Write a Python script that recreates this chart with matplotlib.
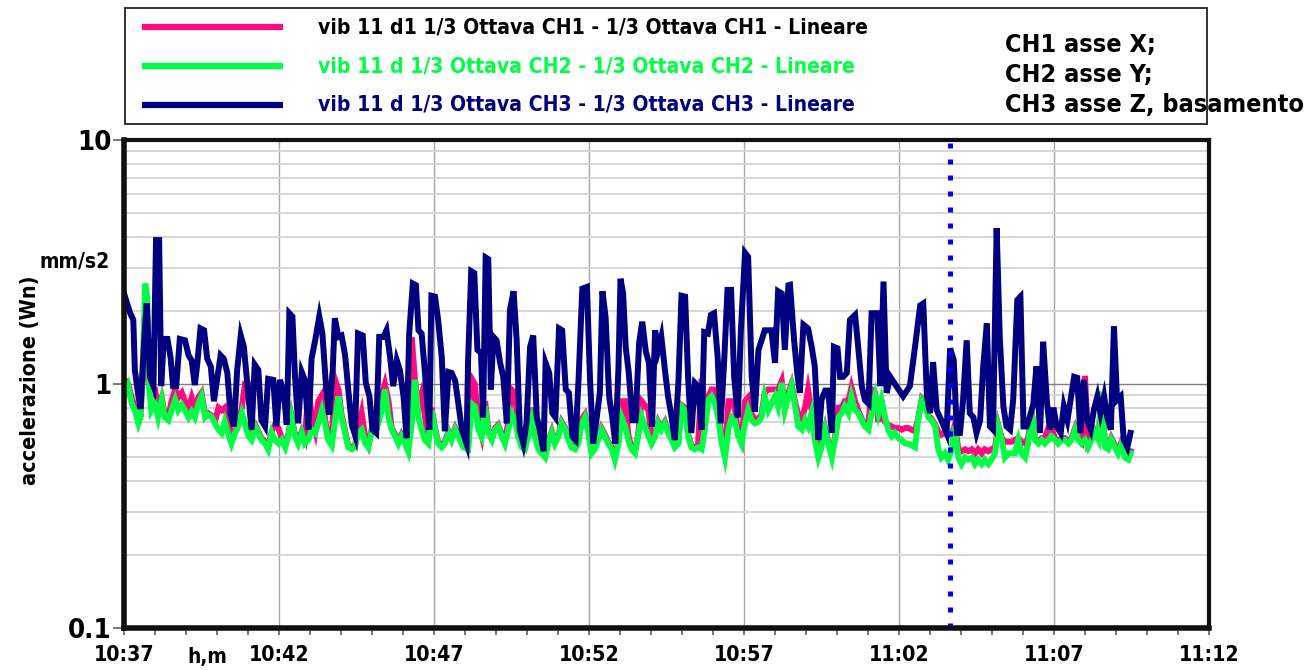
import matplotlib
matplotlib.use("Agg")
import matplotlib.pyplot as plt
import numpy as np
from matplotlib import font_manager
from matplotlib.ticker import FixedLocator, NullFormatter
from matplotlib.patches import Rectangle

# pick a narrow bold face if one is installed
_names = {f.name for f in font_manager.fontManager.ttflist}
_cond = [f for f in font_manager.fontManager.ttflist
         if f.name == 'DejaVu Sans' and 'condensed' in str(f.stretch).lower()]
if 'Liberation Sans Narrow' in _names:
    FAMILY, STRETCH = 'Liberation Sans Narrow', 'normal'
elif _cond:
    FAMILY, STRETCH = 'DejaVu Sans', 'condensed'
elif 'Roboto' in _names:
    FAMILY, STRETCH = 'Roboto', 'normal'
else:
    FAMILY, STRETCH = 'DejaVu Sans', 'normal'
plt.rcParams['font.family'] = [FAMILY, 'DejaVu Sans']
plt.rcParams['font.stretch'] = STRETCH
plt.rcParams['font.weight'] = 'bold'

# ---- data: seconds after 10:37:00, acceleration in mm/s2 ----
ch3_t = [0, 12, 18, 21, 28, 32, 39, 44, 50, 57, 62, 68, 72, 77, 84, 90, 95, 101, 108, 118,
         125, 131, 137, 142, 148, 155, 161, 168, 174, 181, 187, 193, 200, 206, 213, 219, 226, 232, 239, 247,
         253, 260, 266, 273, 279, 289, 295, 302, 310, 315, 320, 326, 331, 337, 344, 350, 357, 363, 370, 378,
         384, 391, 397, 404, 408, 415, 421, 428, 434, 441, 447, 453, 462, 468, 475, 481, 488, 494, 502, 508,
         515, 521, 528, 534, 541, 547, 552, 559, 565, 570, 576, 582, 591, 595, 602, 608, 615, 621, 628, 634, 641,
         654, 663, 666, 672, 678, 684, 691, 695, 700, 705, 710, 715, 721, 728, 734, 741, 747, 754, 760, 766,
         773, 779, 786, 792, 799, 805, 812, 816, 823, 829, 835, 842, 848, 855, 861, 868, 874, 880, 887, 896,
         902, 908, 915, 921, 926, 932, 939, 945, 951, 957, 961, 966, 971, 977, 984, 990, 997, 1003, 1010, 1016,
         1022, 1028, 1034, 1040, 1047, 1053, 1060, 1066, 1073, 1079, 1086, 1092, 1098, 1105, 1111, 1118, 1123, 1130, 1136, 1142,
         1149, 1155, 1162, 1168, 1175, 1181, 1188, 1194, 1202, 1208, 1215, 1221, 1228, 1234, 1240, 1247, 1253, 1260, 1266, 1273,
         1279, 1286,
         1289, 1297, 1303, 1308, 1315, 1324, 1331, 1337, 1344, 1350, 1357, 1363, 1370, 1374, 1381, 1386, 1392, 1399, 1405, 1415,
         1421, 1428, 1434, 1441, 1447, 1458, 1464, 1470, 1476, 1483, 1495, 1508, 1521, 1531, 1541, 1547, 1554, 1560, 1566, 1573,
         1582, 1592, 1599, 1606, 1612, 1618, 1624, 1631, 1637, 1644, 1650, 1657, 1663, 1670, 1676, 1682, 1689, 1695, 1702, 1708,
         1715, 1721, 1729, 1735, 1741, 1747, 1753, 1760, 1766, 1773, 1779, 1786, 1792, 1799, 1805, 1813, 1819, 1826, 1832, 1839,
         1845, 1851, 1858, 1864, 1871, 1877, 1884, 1890, 1897, 1903, 1910, 1916, 1922, 1929, 1935, 1942, 1948]
ch3_v = [2.35, 1.95, 1.83, 1.14, 0.89, 0.79, 1.51, 2.14, 1.07, 0.98, 3.89, 3.89, 0.98, 1.53, 1.53, 1.29, 0.98, 0.98, 1.53, 1.51,
         1.31, 1.25, 0.99, 1.22, 1.69, 1.66, 1.27, 1.18, 0.85, 1.07, 1.31, 1.27, 1.11, 0.76, 0.67, 1.14, 1.58, 1.42, 0.98, 0.65,
         1.2, 1.14, 0.71, 0.67, 1.05, 1.04, 0.67, 1.04, 0.89, 0.68, 1.95, 1.89, 1.07, 0.69, 1.12, 1.04, 0.65, 1.27, 1.51, 1.89,
         1.61, 0.98, 0.75, 1.14, 1.86, 1.56, 1.58, 1.31, 0.95, 0.68, 0.62, 1.61, 1.58, 1.01, 0.89, 0.65, 0.63, 1.56, 1.56, 1.66,
         1.29, 0.98, 1.25, 1.14, 0.89, 0.6, 1.61, 2.58, 2.54, 1.66, 1.61, 1.14, 0.65, 2.3, 2.28, 1.83, 1.29, 0.64, 1.12, 1.11, 1.03,
         0.65, 0.57, 1.25, 2.9, 2.85, 1.38, 1.34, 0.73, 3.3, 3.25, 0.95, 1.56, 1.51, 1.22, 1.07, 0.69, 2.01, 2.4, 1.51, 0.65,
         0.57, 0.69, 1.42, 1.58, 0.73, 0.65, 0.53, 1.22, 1.11, 0.76, 0.73, 1.69, 1.66, 0.95, 0.92, 0.61, 0.59, 1.07, 2.46, 2.5,
         1.04, 0.57, 0.73, 0.92, 2.4, 1.89, 0.89, 0.73, 0.57, 1.16, 2.7, 2.35, 1.42, 1.11, 0.71, 0.71, 1.47, 1.8, 1.36, 1.22,
         0.67, 1.66, 1.38, 1.56, 1.14, 0.89, 0.73, 0.59, 1.01, 2.3, 2.28, 1.04, 0.63, 1.01, 0.98, 0.65, 1.63, 1.61, 1.92, 1.95,
         1.29, 0.69, 1.29, 2.43, 2.43, 1.07, 0.73, 1.66, 3.45, 3.32, 1.07, 0.77, 1.38, 1.51, 1.66, 1.66, 1.66, 1.22, 2.4, 2.35,
         1.38, 2.54,
         2.55, 1.51, 1.11, 0.92, 1.75, 1.69, 1.42, 1.18, 0.59, 0.86, 0.94, 0.94, 0.63, 1.42, 1.40, 1.07, 1.07, 1.11, 1.83, 1.92,
         1.42, 0.98, 0.86, 0.83, 1.95, 1.95, 0.98, 2.63, 0.92, 1.07, 0.98, 0.89, 0.98, 1.42, 2.1, 2.14, 0.89, 0.76, 1.23, 0.78,
         0.71, 0.63, 1.40, 1.25, 0.63, 0.63, 0.86, 1.51, 0.76, 0.73, 0.63, 0.71, 1.18, 1.77, 0.67, 0.65, 4.35, 1.56, 0.81, 0.67,
         0.65, 0.86, 2.21, 2.28, 0.67, 0.67, 0.73, 0.83, 1.18, 0.63, 1.49, 0.86, 0.65, 0.80, 0.67, 0.63, 0.81, 0.71, 0.86, 1.07,
         1.06, 0.63, 1.04, 0.71, 0.65, 0.78, 0.89, 0.76, 0.89, 0.73, 0.65, 1.72, 0.86, 0.89, 0.59, 0.55, 0.63]

# CH1 and CH2 share the same sampling instants
ch12_t = [0, 8, 15, 21, 28, 32, 36, 41, 45, 49, 53, 60, 66, 73, 79, 86, 92, 99, 105, 112,
          118, 125, 131, 137, 144, 150, 157, 163, 170, 176, 183, 189, 195, 202, 208, 215, 221, 228, 234, 241,
          247, 254, 260, 266, 273, 279, 286, 292, 299, 305, 312, 318, 324, 331, 337, 344, 350, 357, 363, 370,
          376, 383, 389, 395, 402, 408, 415, 421, 428, 434, 441, 447, 453, 460, 467, 473, 480, 486, 492, 499,
          505, 512, 518, 525, 531, 537, 544, 550, 557, 563, 570, 576, 582, 589, 595, 602, 608, 615, 621, 628,
          634, 641,
          647, 657, 666, 673, 679, 686, 692, 699, 705, 712, 718, 724, 731, 737, 744, 750, 757, 763, 770, 776,
          782, 789, 795, 802, 808, 815, 821, 828, 834, 841, 847, 854, 860, 866, 873, 879, 886, 892, 899, 905,
          911, 918, 924, 931, 937, 944, 950, 957, 963, 970, 976, 982, 989, 995, 1002, 1008, 1015, 1021, 1028, 1034,
          1040, 1047, 1053, 1060, 1066, 1073, 1079, 1086, 1092, 1098, 1105, 1111, 1118, 1124, 1131, 1137, 1144, 1150, 1157, 1163,
          1170, 1176, 1182, 1189, 1195, 1202, 1208, 1215, 1221, 1228, 1234, 1240, 1247, 1253, 1260, 1266, 1273, 1279, 1286,
          1292, 1299, 1305, 1312, 1318, 1324, 1331, 1337, 1344, 1350, 1357, 1363, 1370, 1376, 1383, 1389, 1395, 1402, 1408, 1415,
          1421, 1428, 1434, 1441, 1447, 1454, 1460, 1466, 1473, 1479, 1486, 1492, 1499, 1505, 1512, 1518, 1524, 1531, 1537, 1544,
          1550, 1557, 1563, 1570, 1576, 1582, 1589, 1595, 1602, 1608, 1615, 1621, 1628, 1634, 1641, 1647, 1653, 1660, 1666, 1673,
          1679, 1686, 1692, 1699, 1705, 1712, 1718, 1724, 1731, 1737, 1744, 1750, 1757, 1763, 1770, 1776, 1782, 1789, 1795, 1802,
          1808, 1815, 1821, 1828, 1834, 1841, 1847, 1853, 1860, 1866, 1873, 1879, 1886, 1892, 1899, 1905, 1911, 1918, 1924, 1931,
          1937, 1944, 1948]
ch2_v = [0.89, 0.98, 0.83, 0.78, 0.69, 0.73, 1.11, 2.58, 2.28, 0.95, 0.78, 0.83, 0.73, 0.86, 0.73, 0.71, 0.78, 0.86, 0.78, 0.82,
         0.78, 0.73, 0.77, 0.73, 0.83, 0.89, 0.73, 0.75, 0.73, 0.69, 0.65, 0.63, 0.70, 0.62, 0.57, 0.63, 0.67, 0.76, 0.69, 0.61,
         0.59, 0.67, 0.63, 0.59, 0.57, 0.54, 0.63, 0.59, 0.57, 0.59, 0.55, 0.61, 0.73, 0.61, 0.57, 0.63, 0.57, 0.59, 0.65, 0.63,
         0.69, 0.78, 0.69, 0.59, 0.56, 0.69, 0.89, 0.73, 0.63, 0.55, 0.54, 0.55, 0.63, 0.65, 0.57, 0.55, 0.65, 0.73, 0.69, 0.78,
         0.95, 0.73, 0.65, 0.61, 0.57, 0.61, 0.57, 0.53, 0.69, 1.04, 0.73, 0.65, 0.59, 0.57, 0.78, 0.65, 0.57, 0.55, 0.57, 0.63,
         0.59, 0.65,
         0.61, 0.55, 0.54, 0.83, 0.81, 0.65, 0.61, 0.81, 0.63, 0.59, 0.65, 0.67, 0.61, 0.57, 0.65, 0.76, 0.71, 0.61, 0.55, 0.54,
         0.61, 0.71, 0.61, 0.54, 0.52, 0.50, 0.57, 0.63, 0.57, 0.61, 0.69, 0.65, 0.59, 0.55, 0.54, 0.57, 0.69, 0.73, 0.63, 0.52,
         0.54, 0.59, 0.65, 0.61, 0.57, 0.54, 0.49, 0.57, 0.73, 0.67, 0.59, 0.54, 0.52, 0.61, 0.73, 0.67, 0.61, 0.57, 0.61, 0.69,
         0.65, 0.69, 0.63, 0.59, 0.55, 0.57, 0.81, 0.78, 0.61, 0.55, 0.54, 0.55, 0.54, 0.65, 0.86, 0.89, 0.83, 0.73, 0.57, 0.50,
         0.65, 0.73, 0.71, 0.61, 0.57, 0.69, 0.78, 0.71, 0.69, 0.70, 0.73, 0.89, 0.78, 0.83, 0.89, 0.81, 1.01, 0.78, 0.89,
         0.98, 0.81, 0.67, 0.65, 0.71, 0.67, 0.76, 0.59, 0.50, 0.55, 0.65, 0.57, 0.50, 0.59, 0.73, 0.76, 0.81, 0.76, 0.89, 0.78,
         0.76, 0.71, 0.67, 0.65, 0.76, 0.89, 0.76, 0.86, 0.73, 0.65, 0.61, 0.63, 0.60, 0.59, 0.57, 0.57, 0.56, 0.55, 0.71, 0.86,
         0.83, 0.73, 0.71, 0.67, 0.54, 0.50, 0.52, 0.49, 0.54, 0.67, 0.50, 0.47, 0.50, 0.49, 0.50, 0.47, 0.49, 0.47, 0.49, 0.47,
         0.49, 0.52, 0.67, 0.59, 0.50, 0.52, 0.52, 0.52, 0.59, 0.52, 0.50, 0.57, 0.76, 0.59, 0.57, 0.59, 0.57, 0.59, 0.61, 0.59,
         0.57, 0.59, 0.59, 0.57, 0.59, 0.65, 0.59, 0.57, 0.59, 0.55, 0.59, 0.63, 0.59, 0.93, 0.55, 0.54, 0.59, 0.55, 0.52, 0.57,
         0.50, 0.49, 0.52]
ch1_v = [1.05, 1.0, 0.88, 0.8, 0.7, 0.74, 1.1, 1.2, 1.1, 0.97, 0.95, 0.95, 0.8, 0.88, 0.75, 0.73, 0.85, 0.95, 0.88, 0.92,
         0.85, 0.8, 0.88, 0.8, 0.88, 0.92, 0.75, 0.76, 0.74, 0.7, 0.8, 0.78, 0.8, 0.72, 0.6, 0.64, 0.68, 0.8, 1.0, 1.0,
         0.65, 0.68, 0.64, 0.6, 0.58, 0.55, 0.64, 0.68, 0.66, 0.6, 0.56, 0.62, 0.74, 0.62, 0.58, 0.64, 0.6, 0.95, 0.75, 0.65,
         0.85, 0.9, 0.72, 0.6, 0.58, 1.05, 0.95, 0.75, 0.64, 0.56, 0.55, 0.56, 0.65, 0.76, 0.6, 0.56, 0.66, 0.74, 0.72, 0.9,
         1.0, 0.85, 0.66, 0.62, 0.58, 0.62, 0.58, 0.55, 1.55, 1.05, 0.8, 0.9, 0.75, 0.58, 0.8, 0.66, 0.58, 0.56, 0.58, 0.64,
         0.6, 0.66,
         0.62, 0.56, 0.55, 1.05, 1.0, 0.7, 0.62, 0.85, 0.65, 0.6, 0.66, 0.68, 0.62, 0.58, 0.7, 0.95, 0.92, 0.64, 0.56, 0.55,
         0.62, 0.8, 0.64, 0.55, 0.53, 0.51, 0.58, 0.64, 0.58, 0.62, 0.7, 0.66, 0.6, 0.56, 0.55, 0.58, 0.72, 0.75, 0.64, 0.53,
         0.55, 0.6, 0.66, 0.62, 0.58, 0.55, 0.5, 0.58, 0.85, 0.85, 0.62, 0.55, 0.53, 0.62, 0.85, 0.82, 0.78, 0.6, 0.62, 0.7,
         0.66, 0.7, 0.64, 0.6, 0.56, 0.58, 0.82, 0.8, 0.62, 0.56, 0.55, 0.56, 1.05, 0.8, 0.88, 0.95, 0.95, 0.8, 0.58, 0.51,
         0.85, 0.85, 0.8, 0.62, 0.58, 0.85, 0.88, 0.75, 0.72, 0.72, 0.75, 0.92, 0.95, 0.95, 0.95, 0.95, 1.03, 0.8, 0.92,
         1.0, 0.84, 0.75, 0.72, 0.8, 0.95, 0.78, 0.62, 0.52, 0.57, 0.66, 0.58, 0.52, 0.6, 0.8, 0.8, 0.85, 0.85, 0.97, 0.85,
         0.78, 0.72, 0.68, 0.7, 0.95, 0.92, 0.7, 0.86, 0.7, 0.68, 0.67, 0.66, 0.66, 0.65, 0.66, 0.66, 0.65, 0.64, 0.72, 0.87,
         0.84, 0.74, 0.72, 0.68, 0.64, 0.62, 0.63, 0.62, 0.62, 0.68, 0.54, 0.53, 0.54, 0.53, 0.54, 0.52, 0.54, 0.52, 0.54, 0.53,
         0.54, 0.55, 0.68, 0.6, 0.58, 0.58, 0.58, 0.59, 0.6, 0.58, 0.57, 0.6, 0.77, 0.6, 0.58, 0.6, 0.6, 0.66, 0.66, 0.6,
         0.58, 0.6, 0.6, 0.58, 0.6, 0.66, 0.6, 0.58, 1.08, 0.57, 0.6, 0.64, 0.6, 0.9, 0.56, 0.55, 0.6, 0.56, 0.53, 0.58,
         0.51, 0.5, 0.53]

cursor_sec = 1599          # cursor position, seconds after 10:37:00
x_tick_labels = ['10:37', '10:42', '10:47', '10:52', '10:57', '11:02', '11:07', '11:12']
y_tick_values = [0.1, 1, 10]
y_tick_labels = ['0.1', '1', '10']

series_names = ['vib 11 d1 1/3 Ottava CH1 - 1/3 Ottava CH1 - Lineare',
                'vib 11 d 1/3 Ottava CH2 - 1/3 Ottava CH2 - Lineare',
                'vib 11 d 1/3 Ottava CH3 - 1/3 Ottava CH3 - Lineare']
axis_notes = ['CH1 asse X;', 'CH2 asse Y;', 'CH3 asse Z, basamento']

PINK = '#FF0A80'
GREEN = '#00FF44'
NAVY = '#000080'
colors = [PINK, GREEN, NAVY]
text_colors = ['black', GREEN, NAVY]

W, H = 1309, 670
fig = plt.figure(figsize=(W / 100, H / 100), dpi=100)
ax = fig.add_axes([124 / W, 1 - 628 / H, (1209 - 124) / W, (628 - 140) / H])

lw = 4.3
for t, v, c in [(ch12_t, ch1_v, PINK), (ch12_t, ch2_v, GREEN), (ch3_t, ch3_v, NAVY)]:
    ax.plot(np.array(t) / 60.0, v, color=c, lw=lw, solid_joinstyle='miter', zorder=3)

ax.axvline(cursor_sec / 60.0, color='#0000FF', lw=3.6, linestyle=(0, (1, 2.2)), zorder=5)

ax.set_yscale('log')
ax.set_ylim(0.1, 10)
ax.set_xlim(0, 35)

ax.yaxis.set_major_locator(FixedLocator(y_tick_values))
ax.set_yticklabels(y_tick_labels)
ax.yaxis.set_minor_locator(FixedLocator([m * d for d in (0.1, 1) for m in range(2, 10)]))
ax.yaxis.set_minor_formatter(NullFormatter())

ax.set_xticks(np.arange(0, 36, 5))
ax.set_xticklabels(x_tick_labels)
ax.set_xticks(np.arange(0, 36, 1), minor=True)

ax.grid(True, which='minor', axis='y', color='#d4d4d4', lw=1.3, zorder=0)
ax.grid(True, which='major', axis='y', color='#808080', lw=1.0, zorder=0)
ax.grid(True, which='major', axis='x', color='#a8a8a8', lw=1.0, zorder=0)

ax.tick_params(axis='x', which='both', direction='out', length=5, width=1.2, color='#606060', pad=7)
ax.tick_params(axis='y', which='major', direction='out', length=8, width=1.2, color='#606060', pad=1)
ax.tick_params(axis='y', which='minor', length=0)

for side in ['left', 'bottom']:
    ax.spines[side].set_linewidth(4.0)
for side in ['top', 'right']:
    ax.spines[side].set_linewidth(3.0)
for s in ax.spines.values():
    s.set_color('#111111')
    s.set_zorder(6)

ylab = fig.text(30 / W, 1 - 380 / H, 'accelerazione (Wn)', rotation=90, ha='center', va='center',
                fontsize=16, fontweight='bold')
unit = fig.text(75 / W, 1 - 262 / H, 'mm/s2', ha='center', va='center', fontsize=17, fontweight='bold')
hm = fig.text(207 / W, 1 - 657 / H, 'h,m', ha='center', va='center', fontsize=18, fontweight='bold')

# legend panel
lg = fig.add_axes([125 / W, 1 - 124 / H, (1207 - 125) / W, (124 - 8) / H])
lg.set_xlim(0, 1)
lg.set_ylim(0, 1)
lg.axis('off')
lg.add_patch(Rectangle((0, 0), 1, 1, transform=lg.transAxes, fill=False, ec='#222222', lw=1.3,
                       clip_on=False))
rows_y = [0.835, 0.50, 0.165]
name_texts = []
for y, c, tc, name in zip(rows_y, colors, text_colors, series_names):
    lg.plot([0.0157, 0.146], [y, y], color=c, lw=4.5, solid_capstyle='butt')
    name_texts.append(lg.text(0.178, y, name, color=tc, fontsize=17, fontweight='bold',
                              va='center', ha='left'))
note_texts = []
for y, note in zip([0.68, 0.42, 0.16], axis_notes):
    note_texts.append(lg.text(0.813, y, note, color='black', fontsize=22, fontweight='bold',
                              va='center', ha='left', clip_on=False))

# size the texts to the widths of the original layout
fig.canvas.draw()
renderer = fig.canvas.get_renderer()


def fitted_size(txt, width_px, use_height=False):
    bb = txt.get_window_extent(renderer)
    size = bb.height if use_height else bb.width
    return txt.get_fontsize() * width_px / size


s_names = fitted_size(name_texts[0], 548)
for t in name_texts:
    t.set_fontsize(s_names)
s_notes = fitted_size(note_texts[2], 298)
for t in note_texts:
    t.set_fontsize(s_notes)
ylab.set_fontsize(fitted_size(ylab, 210, use_height=True))
unit.set_fontsize(fitted_size(unit, 70))
hm.set_fontsize(fitted_size(hm, 40))

xl = ax.get_xticklabels()
s_x = fitted_size(xl[0], 61)
ax.tick_params(axis='x', labelsize=s_x)
yl = ax.get_yticklabels()
s_y = fitted_size(yl[0], 44)
ax.tick_params(axis='y', labelsize=s_y)
for lab in ax.get_xticklabels() + ax.get_yticklabels():
    lab.set_fontweight('bold')

fig.savefig('out.png', dpi=100)
